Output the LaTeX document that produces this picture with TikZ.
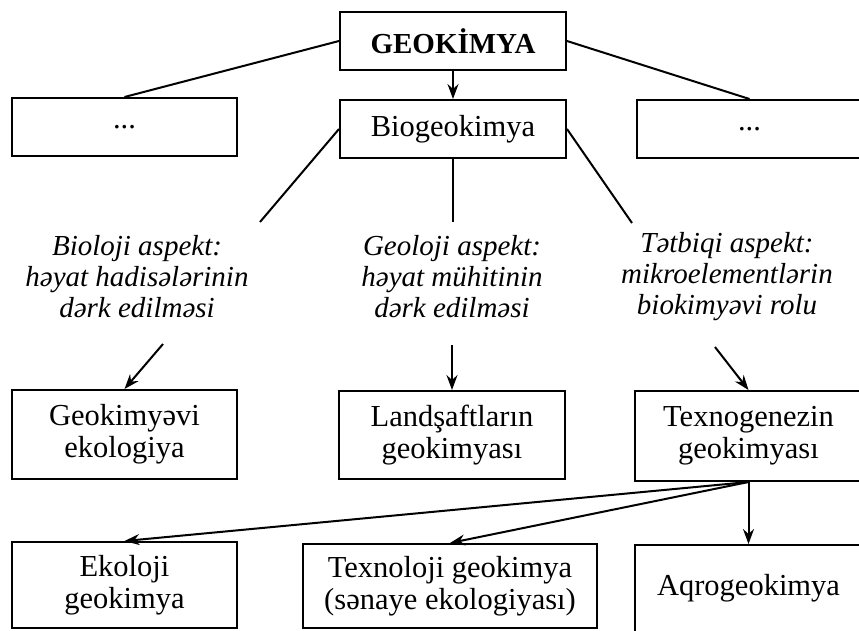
\documentclass[tikz,border=0pt]{standalone}
\usepackage{fontspec}
\setmainfont{Liberation Serif}
\usetikzlibrary{arrows.meta}
\begin{document}
\begin{tikzpicture}[x=1pt,y=-1pt,
  txt/.style={font=\fontsize{30.5}{32}\selectfont, align=center, inner sep=0pt},
  box/.style={txt, draw, line width=2pt},
  aspect/.style={font=\fontsize{29}{31}\selectfont\itshape, align=center, inner sep=0pt},
  link/.style={line width=2pt},
  arr/.style={line width=2pt, -{Stealth[length=15pt,width=11pt,inset=5pt]}}]
\useasboundingbox (0,0) rectangle (859,630);
\clip (0,0) rectangle (859,630);
\fill[white] (0,0) rectangle (859,630);

% top level
\node[box, font=\fontsize{29}{31}\selectfont\bfseries, minimum width=226pt, minimum height=58pt] (geo) at (453,41) {GEOKİMYA};
\node[box, minimum width=225pt, minimum height=58pt] (dotsL) at (124.5,127) {...};
\node[box, minimum width=226pt, minimum height=58pt] (bio) at (453,129) {Biogeokimya};
\node[box, minimum width=225pt, minimum height=58pt] (dotsR) at (749.5,129) {...};

% aspects
\node[aspect] (asp1) at (137,277) {Bioloji aspekt:\\həyat hadisələrinin\\dərk edilməsi};
\node[aspect] (asp2) at (452,277) {Geoloji aspekt:\\həyat mühitinin\\dərk edilməsi};
\node[aspect] (asp3) at (727,277) {Tətbiqi aspekt:\\mikroelementlərin\\biokimyəvi rolu};

% second level
\node[box, minimum width=225pt, minimum height=89pt] (gekol) at (124.5,434.5) {Geokimyəvi\\ekologiya};
\node[box, minimum width=226pt, minimum height=88pt] (land) at (452,435) {Landşaftların\\geokimyası};
\node[box, minimum width=227pt, minimum height=90pt] (texno) at (748.5,436) {Texnogenezin\\geokimyası};

% third level
\node[box, minimum width=225pt, minimum height=86pt] (ekol) at (124.5,585) {Ekoloji\\geokimya};
\node[box, minimum width=294pt, minimum height=84pt] (texnol) at (450,586) {Texnoloji geokimya\\(sənaye ekologiyası)};
\node[box, minimum width=227pt, minimum height=87pt] (aqro) at (748.5,588.5) {Aqrogeokimya};

% free ends of the plain links and arrow tails
\coordinate (b1) at (260,222);
\coordinate (b2) at (bio.south |- 0,222);
\coordinate (b3) at (632,223);
\coordinate (a1) at (163,344);
\coordinate (a2) at (land.north |- 0,345);
\coordinate (a3) at (715,347);

% connectors
\draw[link] (geo.west) -- (dotsL.north);
\draw[link] (geo.east) -- (dotsR.north);
\draw[arr] (geo.south) -- (bio.north);
\draw[link] (bio.west) -- (b1);
\draw[link] (bio.south) -- (b2);
\draw[link] (bio.east) -- (b3);
\draw[arr] (a1) -- (gekol.north);
\draw[arr] (a2) -- (land.north);
\draw[arr] (a3) -- (texno.north);
\draw[arr] (texno.south) -- (ekol.north);
\draw[arr] (texno.south) -- (texnol.north);
\draw[arr] (texno.south) -- (aqro.north);
\end{tikzpicture}
\end{document}
